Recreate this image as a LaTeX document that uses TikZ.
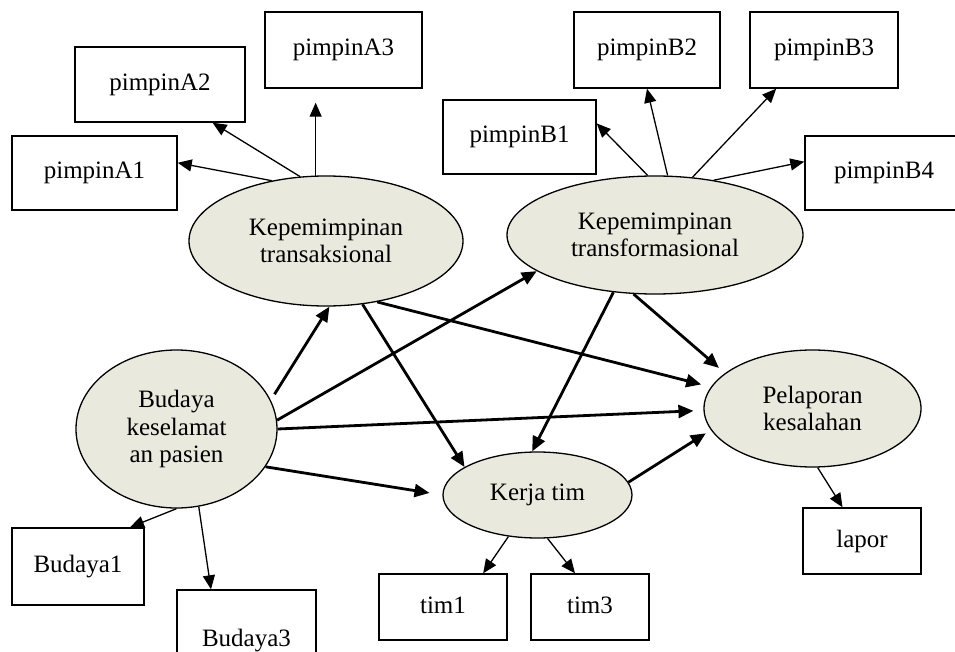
\documentclass[tikz,border=0pt]{standalone}
\usepackage{fontspec}
\setmainfont{Liberation Serif}
\usetikzlibrary{shapes.geometric,arrows.meta}
\definecolor{ellfill}{RGB}{233,233,222}
\begin{document}
\begin{tikzpicture}[x=1pt,y=-1pt,
  lbl/.style={font=\fontsize{25}{27.5}\selectfont},
  box/.style={lbl,draw,line width=1.4pt,fill=white,inner sep=0pt,text height=17pt,text depth=5pt},
  ell/.style={lbl,ellipse,draw,line width=1.3pt,fill=ellfill,inner sep=0pt,align=center},
  thinarr/.style={line width=1.3pt,-{Triangle[length=14pt,width=12pt]}},
  thickarr/.style={line width=2.8pt,-{Triangle[length=15pt,width=13pt]}}]
\useasboundingbox (0,0) rectangle (955,652);
\clip (0,0) rectangle (955,652);

% boxes
\node[box,minimum width=165pt,minimum height=74pt] (pA1) at (94.5,173) {pimpinA1};
\node[box,minimum width=170pt,minimum height=75pt] (pA2) at (160,84.5) {pimpinA2};
\node[box,minimum width=157pt,minimum height=76pt] (pA3) at (343.5,50) {pimpinA3};
\node[box,minimum width=153pt,minimum height=74pt] (pB1) at (519.5,137) {pimpinB1};
\node[box,minimum width=146pt,minimum height=76pt] (pB2) at (647,50) {pimpinB2};
\node[box,minimum width=148pt,minimum height=76pt] (pB3) at (824,50) {pimpinB3};
\node[box,minimum width=160pt,minimum height=74pt,text width=150pt,align=left] (pB4) at (885,173) {\hspace*{24pt}pimpinB4};
\node[box,minimum width=132pt,minimum height=77pt] (b1) at (78,566.5) {Budaya1};
\node[box,minimum width=139pt,minimum height=100pt] (b3) at (246.5,640) {Budaya3};
\node[box,minimum width=128pt,minimum height=66pt] (t1) at (443,607) {tim1};
\node[box,minimum width=118pt,minimum height=66pt] (t3) at (590,607) {tim3};
\node[box,minimum width=118pt,minimum height=66pt] (lap) at (862,541) {lapor};

% ellipses
\node[ell,minimum width=274pt,minimum height=130pt] (kt) at (326,241) {Kepemimpinan\\transaksional};
\node[ell,minimum width=296pt,minimum height=118pt] (ktf) at (655,235) {Kepemimpinan\\transformasional};
\node[ell,minimum width=201pt,minimum height=158pt] (bud) at (176.5,429) {Budaya\\keselamat\\an pasien};
\node[ell,minimum width=189pt,minimum height=86pt] (kerja) at (537.5,495) {Kerja tim};
\node[ell,minimum width=217pt,minimum height=117pt] (pel) at (812.5,408.5) {Pelaporan\\kesalahan};

% thin arrows
\draw[thinarr] (kt.132) -- (pA1.7);
\draw[thinarr] (kt.112) -- (pA2.-36);
\draw[thinarr,shorten >=14pt] (kt.99) -- (kt.99 |- pA3.south);
\draw[thinarr] (ktf.97) -- (pB1.10);
\draw[thinarr] (ktf.78) -- (pB2.south);
\draw[thinarr] (ktf.57) -- (pB3.219);
\draw[thinarr] (ktf.43) -- (pB4.172);
\draw[thinarr] (bud.south) -- (b1.37);
\draw[thinarr] (bud.-74) -- (b3.125);
\draw[thinarr] (kerja.235) -- (t1.40);
\draw[thinarr] (kerja.-77) -- (t3.114);
\draw[thinarr] (pel.-85) -- (lap.120);

% thick arrows
\draw[thickarr,shorten <=7pt] (bud.17) -- (kt.-87);
\draw[thickarr] (bud.5) -- (ktf.197);
\draw[thickarr,shorten >=10pt] (bud.0) -- (pel.181);
\draw[thickarr,shorten >=13pt] (bud.-23) -- (kerja.west);
\draw[thickarr] (kt.-60) -- (kerja.159);
\draw[thickarr,shorten >=10pt] (kt.-50) -- (pel.168);
\draw[thickarr] (ktf.234) -- (kerja.97);
\draw[thickarr,shorten >=8pt] (ktf.250) -- (pel.158);
\draw[thickarr,shorten >=6pt] (kerja.8) -- (pel.192);
\end{tikzpicture}
\end{document}
